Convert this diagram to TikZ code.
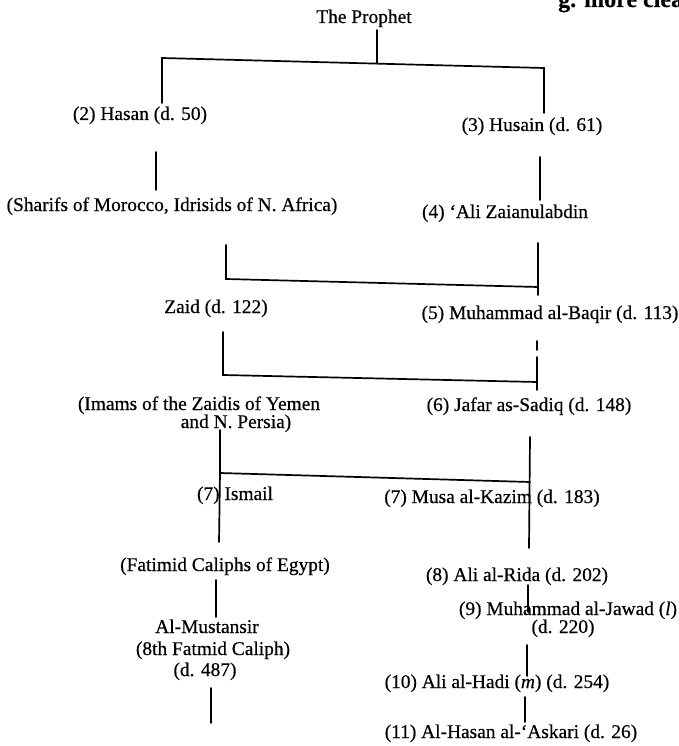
\documentclass[tikz,border=0pt]{standalone}
\usepackage{fontspec}
\setmainfont[FakeBold=0.5]{Liberation Serif}
\begin{document}
\begin{tikzpicture}[x=1pt,y=-1pt,
  lbl/.style={font=\fontsize{19.4}{22}\selectfont, inner sep=0pt, anchor=base},
  ln/.style={line width=1.7pt, line cap=round}]
\useasboundingbox (0,0) rectangle (678,746);
% cut-off page text at top right
\node[inner sep=0pt, anchor=base west, font=\fontsize{24}{28}\selectfont\bfseries] (cut) at (558,7) {g. more clea};
% texts
\node[lbl] (prophet) at (364,23) {The Prophet};
\node[lbl] (hasan) at (140,120) {(2) Hasan (d. 50)};
\node[lbl] (husain) at (532,131) {(3) Husain (d. 61)};
\node[lbl] (sharifs) at (172,211) {(Sharifs of Morocco, Idrisids of N. Africa)};
\node[lbl] (ali) at (505,218) {(4) ‘Ali Zaianulabdin};
\node[lbl] (zaid) at (216,313) {Zaid (d. 122)};
\node[lbl] (baqir) at (550,319) {(5) Muhammad al-Baqir (d. 113)};
\node[lbl] (imamsA) at (199,410) {(Imams of the Zaidis of Yemen};
\node[lbl] (imamsB) at (236,428) {and N. Persia)};
\node[lbl] (jafar) at (529,411) {(6) Jafar as-Sadiq (d. 148)};
\node[lbl] (ismail) at (235,500) {(7) Ismail};
\node[lbl] (musa) at (492,503) {(7) Musa al-Kazim (d. 183)};
\node[lbl] (fatimid) at (225,571) {(Fatimid Caliphs of Egypt)};
\node[lbl] (rida) at (517,581) {(8) Ali al-Rida (d. 202)};
\node[lbl] (jawad) at (568,615) {(9) Muhammad al-Jawad (\textit{l})};
\node[lbl] (jawadd) at (563,633) {(d. 220)};
\node[lbl] (mustansir) at (207,633) {Al-Mustansir};
\node[lbl] (eighth) at (213,655) {(8th Fatmid Caliph)};
\node[lbl] (d487) at (205,676) {(d. 487)};
\node[lbl] (hadi) at (497,688) {(10) Ali al-Hadi (\textit{m}) (d. 254)};
\node[lbl] (askari) at (511,738) {(11) Al-Hasan al-‘Askari (d. 26)};
% junction coordinates
\coordinate (p0) at (377,30);
\coordinate (p1) at (377,63.6);
\coordinate (b1L) at (162,58);
\coordinate (b1R) at (544,68);
\coordinate (b1Lb) at (162,103);
\coordinate (b1Rb) at (544,113);
\coordinate (a0) at (156,152); \coordinate (a1) at (156,190);
\coordinate (c0) at (540,157); \coordinate (c1) at (540,200);
\coordinate (b2Lt) at (226,245); \coordinate (b2L) at (226,279);
\coordinate (b2R) at (538,287); \coordinate (b2Rt) at (538,243); \coordinate (b2Rb) at (538,295);
\coordinate (b3Lt) at (223,332); \coordinate (b3L) at (223,375);
\coordinate (b3R) at (537,382); \coordinate (b3Rt) at (537,341); \coordinate (b3Rg) at (537,350);
\coordinate (b3Rh) at (537,357); \coordinate (b3Rb) at (537,390);
\coordinate (b4Lt) at (220,430); \coordinate (b4L) at (220,473); \coordinate (b4Lb) at (219,542);
\coordinate (b4R) at (530,482); \coordinate (b4Rt) at (530,437); \coordinate (b4Rb) at (529,548);
\coordinate (f0) at (216,580); \coordinate (f1) at (216,617);
\coordinate (r0) at (528,585); \coordinate (r1) at (528,612);
\coordinate (j0) at (527,645); \coordinate (j1) at (527,676);
\coordinate (h0) at (525,697); \coordinate (h1) at (525,722);
\coordinate (m0) at (211,688); \coordinate (m1) at (211,723);
% connectors
\draw[ln] (p0) -- (p1);
\draw[ln] (b1Lb) -- (b1L) -- (b1R) -- (b1Rb);
\draw[ln] (a0) -- (a1);
\draw[ln] (c0) -- (c1);
\draw[ln] (b2Lt) -- (b2L) -- (b2R);
\draw[ln] (b2Rt) -- (b2Rb);
\draw[ln] (b3Lt) -- (b3L) -- (b3R);
\draw[ln] (b3Rt) -- (b3Rg);
\draw[ln] (b3Rh) -- (b3Rb);
\draw[ln] (b4Lt) -- (b4L) -- (b4Lb);
\draw[ln] (b4L) -- (b4R);
\draw[ln] (b4Rt) -- (b4Rb);
\draw[ln] (f0) -- (f1);
\draw[ln] (r0) -- (r1);
\draw[ln] (j0) -- (j1);
\draw[ln] (h0) -- (h1);
\draw[ln] (m0) -- (m1);
\end{tikzpicture}
\end{document}
